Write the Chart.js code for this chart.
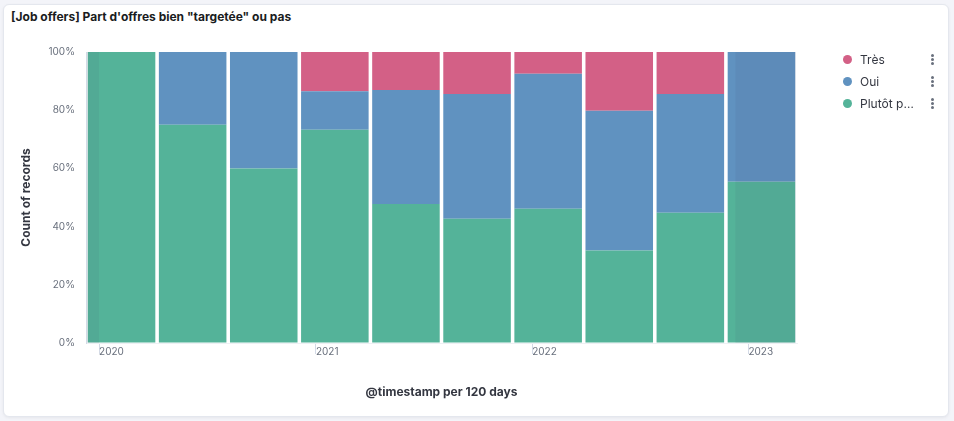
<!DOCTYPE html>
<html>
<head>
<meta charset="utf-8">
<script src="https://cdn.jsdelivr.net/npm/chart.js@4/dist/chart.umd.min.js"></script>
<style>
  html, body { margin: 0; padding: 0; }
  body {
    width: 954px;
    height: 421px;
    background: #f3f4f9;
    font-family: Inter, "Noto Sans", sans-serif;
    position: relative;
    overflow: hidden;
  }
  .panel {
    position: absolute;
    left: 3px;
    top: 4px;
    width: 944px;
    height: 411px;
    background: #ffffff;
    border: 1px solid #e4e7ee;
    border-radius: 6px;
    box-shadow: 0 1px 3px rgba(0, 0, 0, 0.06);
  }
  .title {
    position: absolute;
    left: 11px;
    top: 9px;
    font-size: 12px;
    font-weight: 700;
    color: #1a1c21;
  }
  #chart {
    position: absolute;
    left: 0;
    top: 0;
  }
  .legend {
    position: absolute;
    left: 842px;
    top: 48px;
    width: 100px;
  }
  .legend-item {
    height: 22px;
    display: flex;
    align-items: center;
    font-size: 12px;
    color: #343741;
  }
  .legend-item .dot {
    width: 9px;
    height: 9px;
    border-radius: 50%;
    margin-left: 1px;
    margin-right: 8px;
    flex: none;
  }
  .legend-item .text {
    width: 55px;
    white-space: nowrap;
    overflow: hidden;
    text-overflow: ellipsis;
  }
  .legend-item .menu {
    margin-left: 16px;
    width: 3px;
    display: flex;
    flex-direction: column;
    gap: 1px;
  }
  .legend-item .menu span {
    width: 3px;
    height: 3px;
    border-radius: 50%;
    background: #69707d;
  }
</style>
</head>
<body>
<div class="panel"></div>
<div class="title">[Job offers] Part d'offres bien "targetée" ou pas</div>
<canvas id="chart" width="954" height="421"></canvas>
<div class="legend" id="legend"></div>

<script>
// buckets of 120 days, start day counted from 2020-01-01
const bucketStarts = [-22, 98, 218, 338, 458, 578, 698, 818, 938, 1058];
const bucketSize = 120;

// share of records per bucket (%)
const tres   = [0, 0, 0, 13.5, 13.1, 14.4, 7.5, 20.2, 14.4, 0];
const oui    = [0, 25, 40, 13.2, 39.1, 42.9, 46.4, 48.0, 40.8, 44.6];
const plutot = [100, 75, 60, 73.3, 47.8, 42.7, 46.1, 31.8, 44.8, 55.4];

const yearDays = [0, 366, 731, 1096];
const yearLabels = ['2020', '2021', '2022', '2023'];

// selected time range (days from 2020-01-01), outside is shaded
const rangeStart = 0;
const rangeEnd = 1074;

const seriesNames = ['Très', 'Oui', 'Plutôt pas'];
const seriesColors = ['#D36086', '#6092C0', '#54B399'];

function toPoints(values) {
  return values.map((v, i) => ({ x: bucketStarts[i] + bucketSize / 2, y: v }));
}

// shaded overlay for the part of the buckets outside the time range
const partialShade = {
  id: 'partialShade',
  afterDatasetsDraw(chart) {
    const { ctx, chartArea, scales } = chart;
    const x = scales.x;
    ctx.save();
    ctx.fillStyle = 'rgba(70, 70, 100, 0.08)';
    const left = x.getPixelForValue(rangeStart);
    const right = x.getPixelForValue(rangeEnd);
    ctx.fillRect(chartArea.left + 1, chartArea.top, left - chartArea.left - 1, chartArea.height);
    ctx.fillRect(right, chartArea.top, chartArea.right - right - 1, chartArea.height);
    ctx.restore();
  }
};

const ctx = document.getElementById('chart').getContext('2d');

new Chart(ctx, {
  type: 'bar',
  data: {
    datasets: [
      { label: seriesNames[2], data: toPoints(plutot), backgroundColor: seriesColors[2] },
      { label: seriesNames[1], data: toPoints(oui), backgroundColor: seriesColors[1] },
      { label: seriesNames[0], data: toPoints(tres), backgroundColor: seriesColors[0] }
    ]
  },
  options: {
    responsive: false,
    animation: false,
    layout: {
      padding: { left: 14, top: 52, right: 157, bottom: 21 }
    },
    datasets: {
      bar: {
        barPercentage: 0.95,
        categoryPercentage: 1,
        borderWidth: 0
      }
    },
    plugins: {
      legend: { display: false },
      tooltip: { enabled: false }
    },
    scales: {
      x: {
        type: 'linear',
        stacked: true,
        offset: false,
        min: bucketStarts[0],
        max: bucketStarts[bucketStarts.length - 1] + bucketSize,
        afterBuildTicks: (scale) => {
          scale.ticks = yearDays.map(v => ({ value: v }));
        },
        afterFit: (scale) => {
          scale.height = 57;
        },
        ticks: {
          autoSkip: false,
          maxRotation: 0,
          align: 'start',
          padding: -8,
          color: '#69707d',
          font: { family: 'Inter', size: 10 },
          callback: (value) => yearLabels[yearDays.indexOf(value)]
        },
        grid: {
          offset: false,
          drawOnChartArea: false,
          drawTicks: true,
          tickLength: 11,
          tickColor: '#d3dae6'
        },
        border: { display: true, color: '#eef0f4' },
        title: {
          display: true,
          text: '@timestamp per 120 days',
          color: '#343741',
          font: { family: 'Inter', size: 12, weight: 'bold' },
          padding: 0
        }
      },
      y: {
        stacked: true,
        min: 0,
        max: 100,
        afterFit: (scale) => {
          scale.width = 72;
        },
        ticks: {
          stepSize: 20,
          padding: 11,
          color: '#69707d',
          font: { family: 'Inter', size: 10 },
          callback: (value) => value + '%'
        },
        grid: {
          drawOnChartArea: false,
          drawTicks: false
        },
        border: { display: true, color: '#d3dae6' },
        title: {
          display: true,
          text: 'Count of records',
          color: '#343741',
          font: { family: 'Inter', size: 12, weight: 'bold' },
          padding: { top: 5, bottom: 0 }
        }
      }
    }
  },
  plugins: [partialShade]
});

// legend, top series first
const legend = document.getElementById('legend');
seriesNames.forEach((name, i) => {
  const item = document.createElement('div');
  item.className = 'legend-item';
  item.innerHTML =
    '<span class="dot" style="background:' + seriesColors[i] + '"></span>' +
    '<span class="text"></span>' +
    '<span class="menu"><span></span><span></span><span></span></span>';
  item.querySelector('.text').textContent = name;
  legend.appendChild(item);
});
</script>
</body>
</html>
